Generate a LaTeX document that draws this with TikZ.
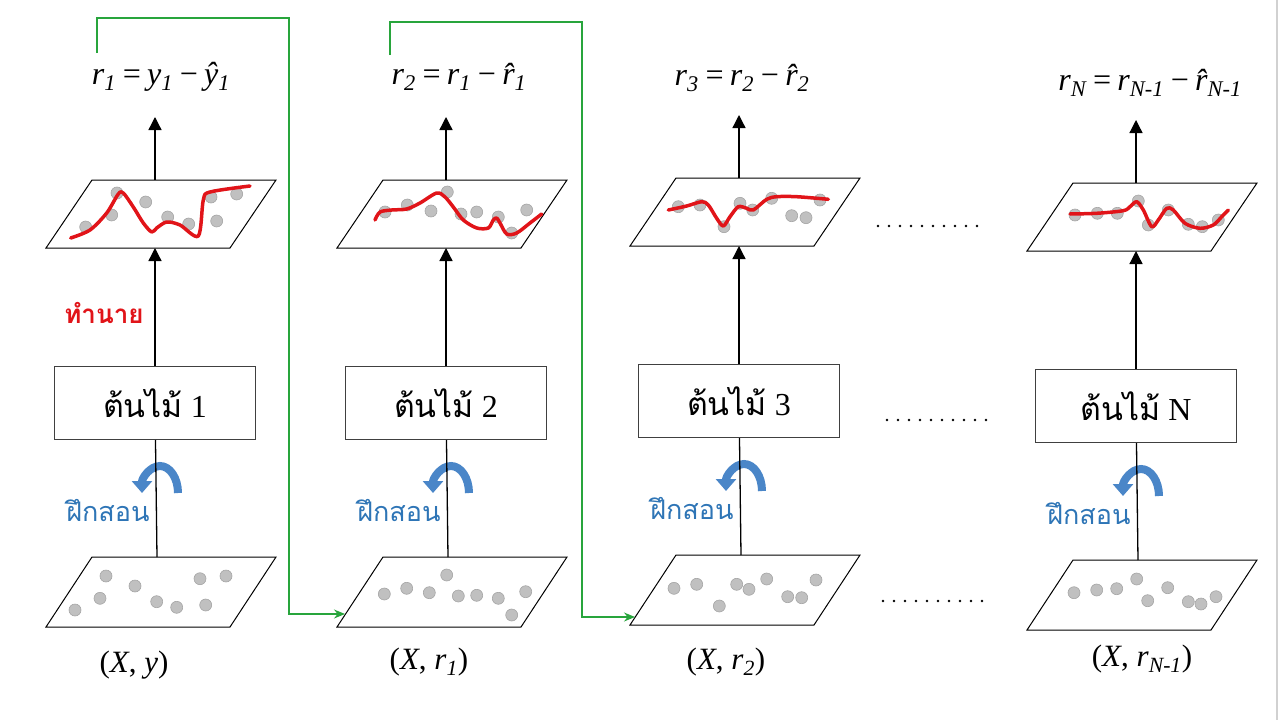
\documentclass[tikz,border=0pt]{standalone}
\usepackage{fontspec}
\setmainfont{Liberation Serif}
\newfontfamily\thaifont[Script=Thai]{Loma}
\usetikzlibrary{arrows.meta}
\definecolor{trainblue}{RGB}{46,117,182}
\definecolor{arcblue}{RGB}{74,134,200}
\definecolor{fitred}{RGB}{225,20,25}
\definecolor{passgreen}{RGB}{40,165,60}
\definecolor{dotgray}{RGB}{192,192,192}
\definecolor{dotedge}{RGB}{165,165,165}

\begin{document}
\begin{tikzpicture}[x=1pt,y=-1pt,>={Triangle[width=13pt,length=13pt]},
    tree/.style={draw=black!75,line width=1pt,minimum width=201pt,minimum height=73pt,inner sep=0pt,font=\fontsize{32}{38}\selectfont},
    plane/.style={draw=black,line width=1pt},
    dot/.style={fill=dotgray,draw=dotedge,line width=0.6pt},
    fitline/.style={draw=fitred,line width=3.5pt,line cap=round,line join=round},
    trainarrow/.style={draw=arcblue,line width=8pt,-{Triangle[width=20pt,length=12pt]}},
    trainlabel/.style={text=trainblue,font=\thaifont\fontsize{27}{32}\selectfont},
    passon/.style={draw=passgreen,line width=1.3pt,-{Stealth[width=9pt,length=11pt]}},
    formula/.style={font=\fontsize{32}{38}\selectfont\itshape},
    setlabel/.style={font=\fontsize{31}{36}\selectfont}]

        \useasboundingbox (0,0) rectangle (1280,720);
        \draw[black!18,line width=2pt] (1277,0) -- (1277,720);

        \foreach \c/\dx/\dy/\lab in {1/0/0/1,2/291/0/2,3/584/-2/3,4/981/3/N} {
                \node[tree] (tree\c) at (155+\dx,403+\dy) {{\thaifont ต้นไม้} \lab};
                \draw[plane] (46+\dx,248+\dy) -- (230+\dx,248+\dy) -- (276+\dx,180+\dy) -- (92+\dx,180+\dy) -- cycle;
                \draw[plane] (46+\dx,627+\dy) -- (230+\dx,627+\dy) -- (276+\dx,557+\dy) -- (92+\dx,557+\dy) -- cycle;
                \coordinate (top\c) at (155+\dx,180+\dy);
                \coordinate (bot\c) at (155+\dx,248+\dy);
                \coordinate (res\c) at (155+\dx,117+\dy);
                \coordinate (data\c) at (157+\dx,557+\dy);
                \draw[trainarrow] (178+\dx,493+\dy) arc[start angle=0,end angle=180,x radius=18pt,y radius=27pt];
                \draw[->,line width=1.3pt] (top\c) -- (res\c);
                \draw[->,line width=1.3pt] (tree\c) -- (bot\c);
                \draw[line width=1.3pt] (data\c) -- (tree\c);
                \node[trainlabel] (train\c) at (108+\dx,510+\dy) {ฝึกสอน};
        }

        \foreach \x/\y in {85.7/227,111.7/215,117/193,145.7/202,167.7/217,188.7/224,211/197,216.7/221,236.7/194,
            385/212,407.3/205,431/211,447.3/192,461/214,476.7/212,498.3/217,511.7/233,526.7/210,
            678.3/206.7,700/205,724/226.7,740/203.3,752.7/210,771.7/198.3,791.7/215.7,806/217.7,820/200,
            1075/215,1097.3/213.3,1117.3/213.3,1138.3/201,1148.3/225,1168.3/210,1188.3/224.3,1202.3/226.7,1218.3/220,
            106/576,135/586,100/598.3,75/610,156.7/601.7,176.7/607.3,200/578.7,226/576,205.7/605,
            384.3/594,406.7/588.3,429.3/592.7,446.7/575,458.3/596,476.7/595.3,498.3/598.3,511.7/615,525.7/591.7,
            674/588.3,696.7/584.3,719.3/606,736.7/584.3,749/589.3,766.7/579,787.7/596.7,801.7/597.7,816/580,
            1074/592.7,1096.7/590,1116.7/588.7,1136.7/579,1147.7/600.7,1167.7/587.7,1188.3/601.7,1201/604,1216/596.7}
                \draw[dot] (\x,\y) circle[radius=6pt];

        \draw[fitline] plot[smooth,tension=0.5] coordinates {(70.7,238) (90,230) (106.7,213) (118.3,194) (123.3,193) (133.3,207) (143.3,223) (151.7,232) (156.7,228) (166.7,222) (180,225) (198.3,236) (203.3,200) (210,192) (250,186)};
        \draw[fitline] plot[smooth,tension=0.5] coordinates {(375,220) (380,212) (391.7,210) (406.7,209) (420,203) (436.7,193) (445,197) (453.3,207) (463.3,220) (476.7,228) (488.3,228) (493.3,220) (496.7,218) (500,223) (506.7,234) (516.7,233) (530,223) (541.7,214)};
        \draw[fitline] plot[smooth,tension=0.5] coordinates {(668.3,210) (686.7,206) (701.7,201.7) (708.3,205) (716.7,218.3) (723.3,226) (730,216.7) (738.3,206.7) (746.7,208.3) (753.3,210) (766.7,199.3) (776.7,196.7) (796.7,196.7) (828.3,199.3)};
        \draw[fitline] plot[smooth,tension=0.5] coordinates {(1070,214) (1096.7,213.3) (1123.3,210.7) (1130,206.7) (1136.7,201.7) (1143.3,210) (1151.7,226.7) (1158.3,220) (1166.7,208.3) (1173.3,210) (1185,223.3) (1200,228.3) (1213.3,225) (1221.7,216.7) (1228.3,210)};

        \node[formula] (eq1) at (161,77) {r\textsubscript{1}\hspace{0.15em}=\hspace{0.15em}y\textsubscript{1}\hspace{0.15em}−\hspace{0.15em}ŷ\textsubscript{1}};
        \node[formula] (eq2) at (459,77) {r\textsubscript{2}\hspace{0.15em}=\hspace{0.15em}r\textsubscript{1}\hspace{0.15em}−\hspace{0.15em}\^{r}\textsubscript{1}};
        \node[formula] (eq3) at (742,78) {r\textsubscript{3}\hspace{0.15em}=\hspace{0.15em}r\textsubscript{2}\hspace{0.15em}−\hspace{0.15em}\^{r}\textsubscript{2}};
        \node[formula] (eq4) at (1150,83) {r\textsubscript{N}\hspace{0.15em}=\hspace{0.15em}r\textsubscript{N-1}\hspace{0.15em}−\hspace{0.15em}\^{r}\textsubscript{N-1}};

        \node[setlabel] (set1) at (134,665) {(\textit{X}, \textit{y})};
        \node[setlabel] (set2) at (429,662) {(\textit{X}, \textit{r}\textsubscript{\textit{1}})};
        \node[setlabel] (set3) at (726,662) {(\textit{X}, \textit{r}\textsubscript{\textit{2}})};
        \node[setlabel] (set4) at (1142,659) {(\textit{X}, \textit{r}\textsubscript{\textit{N-1}})};

        \node[text=fitred,font=\thaifont\bfseries\fontsize{26}{30}\selectfont] (predict) at (104,313) {ทำนาย};

        \coordinate (fb1) at (97,53);
        \coordinate (in2) at (345,614);
        \draw[passon] (fb1) |- (289,18) |- (in2);
        \coordinate (fb2) at (390,55);
        \coordinate (in3) at (635,617);
        \draw[passon] (fb2) |- (582,22) |- (in3);

        \foreach \y/\xa in {226/878,420/887,601/883}
                \foreach \k in {0,...,9}
                        \fill (\xa+11*\k,\y) circle[radius=1.4pt];
\end{tikzpicture}
\end{document}
